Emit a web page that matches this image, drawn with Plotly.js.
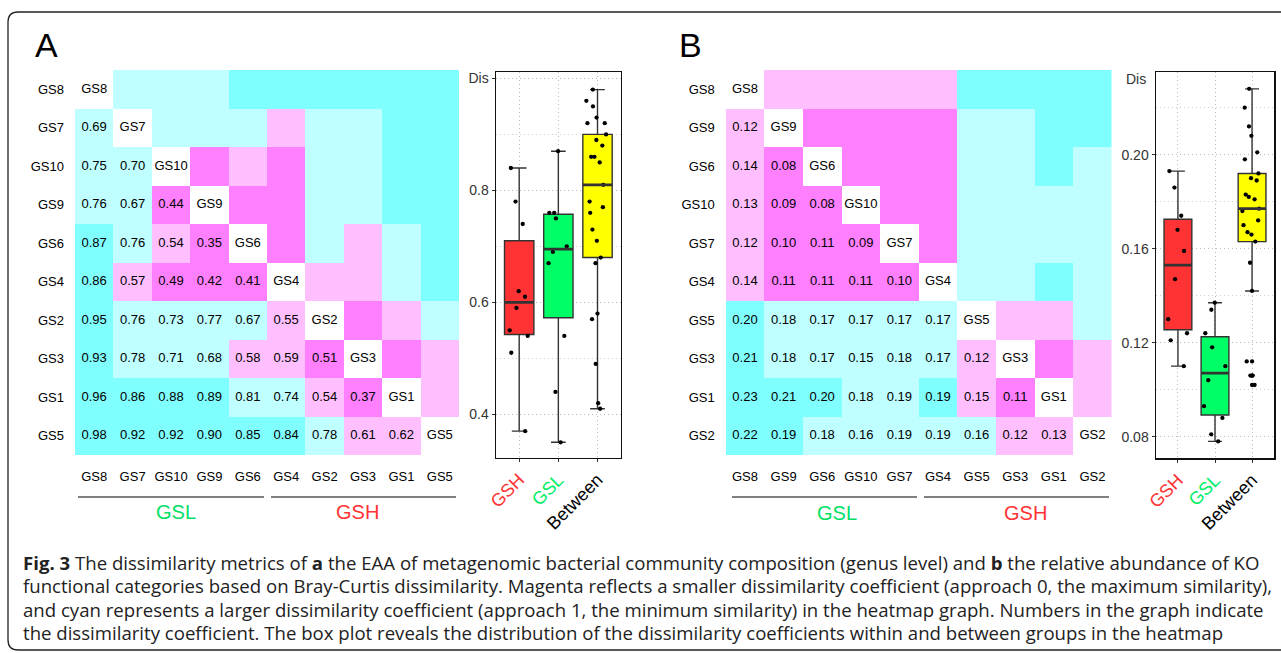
<!DOCTYPE html>
<html><head><meta charset="utf-8">
<script src="https://cdn.plot.ly/plotly-3.0.1.min.js"></script>
<style>html,body{margin:0;padding:0;background:#fff}#chart{width:1281px;height:653px}</style>
</head><body><div id="chart"></div>
<script>
// ---------- DATA ----------
const samplesA = ['GS8','GS7','GS10','GS9','GS6','GS4','GS2','GS3','GS1','GS5'];
const gslA = ['GS8','GS7','GS10','GS9','GS6'];
const gshA = ['GS4','GS2','GS3','GS1','GS5'];
const lowerA = [
  [],
  [0.69],
  [0.75,0.70],
  [0.76,0.67,0.44],
  [0.87,0.76,0.54,0.35],
  [0.86,0.57,0.49,0.42,0.41],
  [0.95,0.76,0.73,0.77,0.67,0.55],
  [0.93,0.78,0.71,0.68,0.58,0.59,0.51],
  [0.96,0.86,0.88,0.89,0.81,0.74,0.54,0.37],
  [0.98,0.92,0.92,0.90,0.85,0.84,0.78,0.61,0.62]
];
const samplesB = ['GS8','GS9','GS6','GS10','GS7','GS4','GS5','GS3','GS1','GS2'];
const gslB = ['GS8','GS9','GS6','GS10','GS7'];
const gshB = ['GS4','GS5','GS3','GS1','GS2'];
const lowerB = [
  [],
  [0.118],
  [0.137,0.078],
  [0.134,0.088,0.081],
  [0.124,0.104,0.110,0.093],
  [0.142,0.112,0.106,0.106,0.102],
  [0.198,0.176,0.166,0.167,0.170,0.168],
  [0.208,0.177,0.172,0.154,0.181,0.174,0.121],
  [0.228,0.212,0.201,0.182,0.189,0.193,0.147,0.110],
  [0.220,0.192,0.183,0.163,0.190,0.186,0.159,0.124,0.130]
];
const boxCats = ['GSH','GSL','Between'];
const boxColors = ['#ff3333','#00ff66','#ffff00'];
const catLabelColors = ['#ff3333','#00ee66','#000000'];
const binsA = [0.52, 0.665, 0.825];
const binsB = [0.115, 0.15, 0.191];
const binColors = ['#ff80ff','#ffbfff','#bfffff','#80ffff'];
const captionLines = [
  '<b>Fig. 3</b> The dissimilarity metrics of <b>a</b> the EAA of metagenomic bacterial community composition (genus level) and <b>b</b> the relative abundance of KO',
  'functional categories based on Bray-Curtis dissimilarity. Magenta reflects a smaller dissimilarity coefficient (approach 0, the maximum similarity),',
  'and cyan represents a larger dissimilarity coefficient (approach 1, the minimum similarity) in the heatmap graph. Numbers in the graph indicate',
  'the dissimilarity coefficient. The box plot reveals the distribution of the dissimilarity coefficients within and between groups in the heatmap'
];

// ---------- HELPERS ----------
const W = 1281, H = 653;
const px = v => v / W;
const py = v => 1 - v / H;
const FONT = 'Liberation Sans, Arial, sans-serif';
const DOT = '1px,3px';

function fullMatrix(samples, lower) {
  const n = samples.length;
  const z = [];
  for (let i = 0; i < n; i++) {
    const row = [];
    for (let j = 0; j < n; j++) {
      if (i === j) row.push(null);
      else if (j < i) row.push(lower[i][j]);
      else row.push(lower[j][i]);
    }
    z.push(row);
  }
  return z;
}
function stepScale(bins) {
  return [
    [0, binColors[0]], [bins[0], binColors[0]],
    [bins[0], binColors[1]], [bins[1], binColors[1]],
    [bins[1], binColors[2]], [bins[2], binColors[2]],
    [bins[2], binColors[3]], [1, binColors[3]]
  ];
}
function textTrace(samples, lower, xa, ya) {
  const xs = [], ys = [], ts = [];
  samples.forEach((s, i) => {
    xs.push(s); ys.push(s); ts.push(s);
    for (let j = 0; j < i; j++) {
      xs.push(samples[j]); ys.push(s); ts.push(lower[i][j].toFixed(2));
    }
  });
  return {type:'scatter', mode:'text', x:xs, y:ys, text:ts, xaxis:xa, yaxis:ya,
    textposition:'middle center', textfont:{family:FONT, size:13, color:'#000'},
    hoverinfo:'skip', cliponaxis:false};
}
function groupValues(samples, lower, gA, gB) {
  const out = [];
  for (let i = 0; i < samples.length; i++) for (let j = 0; j < i; j++) {
    const a = samples[i], b = samples[j];
    if (gB === null) { if (gA.includes(a) && gA.includes(b)) out.push(lower[i][j]); }
    else if ((gA.includes(a) && gB.includes(b)) || (gB.includes(a) && gA.includes(b))) out.push(lower[i][j]);
  }
  return out;
}
function q7(s, p) {
  const h = (s.length - 1) * p, lo = Math.floor(h);
  const hi = Math.min(lo + 1, s.length - 1);
  return s[lo] + (h - lo) * (s[hi] - s[lo]);
}
const medianShapes = [];
function boxTraces(groups, xa, ya) {
  const traces = [];
  const px_ = [], py_ = [], ox = [], oy = [];
  groups.forEach((vals, k) => {
    const s = vals.slice().sort((a, b) => a - b);
    const q1 = q7(s, 0.25), med = q7(s, 0.5), q3 = q7(s, 0.75), iqr = q3 - q1;
    const inside = s.filter(v => v >= q1 - 1.5 * iqr && v <= q3 + 1.5 * iqr);
    const lf = inside[0], uf = inside[inside.length - 1];
    s.forEach(v => { if (v < lf || v > uf) { ox.push(boxCats[k]); oy.push(v); } });
    traces.push({type:'box', x:[boxCats[k]], q1:[q1], median:[med], q3:[q3],
      lowerfence:[lf], upperfence:[uf], boxpoints:false, width:0.75,
      fillcolor:boxColors[k], line:{color:'#333333', width:1.4},
      xaxis:xa, yaxis:ya, hoverinfo:'skip'});
    medianShapes.push({type:'line', xref:xa, yref:ya, x0:k - 0.375, x1:k + 0.375, y0:med, y1:med,
      line:{color:'#333333', width:2.8}, layer:'above'});
    vals.forEach(v => { px_.push(boxCats[k]); py_.push(v); });
  });
  traces.push({type:'box', x:px_, y:py_, boxpoints:'all', jitter:0.85, pointpos:0, width:0.75,
    fillcolor:'rgba(0,0,0,0)', line:{color:'rgba(0,0,0,0)', width:0},
    marker:{color:'#000', size:4.3}, xaxis:xa, yaxis:ya, hoverinfo:'skip'});
  if (ox.length) traces.push({type:'scatter', mode:'markers', x:ox, y:oy,
    marker:{color:'#000', size:4.3}, xaxis:xa, yaxis:ya, hoverinfo:'skip'});
  return traces;
}

// ---------- TRACES ----------
const data = [];
data.push({type:'heatmap', x:samplesA, y:samplesA, z:fullMatrix(samplesA, lowerA),
  zmin:0, zmax:1, colorscale:stepScale(binsA), showscale:false, hoverinfo:'skip', xaxis:'x', yaxis:'y'});
data.push(textTrace(samplesA, lowerA, 'x', 'y'));
data.push({type:'heatmap', x:samplesB, y:samplesB, z:fullMatrix(samplesB, lowerB),
  zmin:0, zmax:1, colorscale:stepScale(binsB), showscale:false, hoverinfo:'skip', xaxis:'x3', yaxis:'y3'});
data.push(textTrace(samplesB, lowerB, 'x3', 'y3'));
const groupsA = [groupValues(samplesA, lowerA, gshA, null), groupValues(samplesA, lowerA, gslA, null), groupValues(samplesA, lowerA, gshA, gslA)];
const groupsB = [groupValues(samplesB, lowerB, gshB, null), groupValues(samplesB, lowerB, gslB, null), groupValues(samplesB, lowerB, gshB, gslB)];
boxTraces(groupsA, 'x2', 'y2').forEach(t => data.push(t));
boxTraces(groupsB, 'x4', 'y4').forEach(t => data.push(t));

// ---------- LAYOUT ----------
function heatX(domain, anchor, cats) {
  return {domain:domain, anchor:anchor, type:'category', categoryorder:'array', categoryarray:cats,
    showgrid:false, zeroline:false, showline:false, ticks:'', ticklabelstandoff:12,
    tickfont:{family:FONT, size:13, color:'#000'}, fixedrange:true};
}
function heatY(domain, anchor, cats) {
  return {domain:domain, anchor:anchor, type:'category', categoryorder:'array', categoryarray:cats,
    autorange:'reversed', showgrid:false, zeroline:false, showline:false, ticks:'', ticklabelstandoff:10,
    tickfont:{family:FONT, size:13, color:'#000'}, fixedrange:true};
}
const ticktextCats = boxCats.map((c, i) => '<span style="color:' + catLabelColors[i] + '">' + c + '</span>');
function boxX(domain, anchor) {
  return {domain:domain, anchor:anchor, type:'category', categoryorder:'array', categoryarray:boxCats,
    range:[-0.6, 2.6], tickmode:'array', tickvals:boxCats, ticktext:ticktextCats, tickangle:-45,
    tickfont:{family:FONT, size:18}, showline:true, mirror:true, linecolor:'#111', linewidth:1.2,
    ticks:'outside', ticklen:3, tickcolor:'#333', showgrid:true, gridcolor:'#bdbdbd', griddash:DOT,
    zeroline:false, fixedrange:true};
}
function boxY(domain, anchor, range, major, labels, minor) {
  return {domain:domain, anchor:anchor, range:range, tickmode:'array', tickvals:major, ticktext:labels,
    tickfont:{family:FONT, size:14, color:'#333'}, showline:true, mirror:true, linecolor:'#111', linewidth:1.2,
    ticks:'outside', ticklen:3, tickcolor:'#333', showgrid:true, gridcolor:'#bdbdbd', griddash:DOT,
    minor:{tickmode:'array', tickvals:minor, showgrid:true, gridcolor:'#d0d0d0', griddash:DOT, ticks:''},
    zeroline:false, fixedrange:true};
}

const shapes = [
  {type:'path', xref:'paper', yref:'paper', line:{color:'#222', width:1.3},
   path:'M ' + px(18) + ' ' + py(12) + ' L ' + px(1300) + ' ' + py(12) + ' L ' + px(1300) + ' ' + py(650) +
        ' L ' + px(18) + ' ' + py(650) + ' Q ' + px(8) + ' ' + py(650) + ' ' + px(8) + ' ' + py(640) +
        ' L ' + px(8) + ' ' + py(22) + ' Q ' + px(8) + ' ' + py(12) + ' ' + px(18) + ' ' + py(12)},
];
[[78,264],[271,456],[732,917],[924,1109]].forEach(s => shapes.push({type:'line', xref:'paper', yref:'paper',
  x0:px(s[0]), x1:px(s[1]), y0:py(497), y1:py(497), line:{color:'#000', width:1.2}}));
medianShapes.forEach(s => shapes.push(s));

const annotations = [
  {text:'A', x:px(46.5), y:py(45.5), font:{family:FONT, size:34, color:'#000'}},
  {text:'B', x:px(690), y:py(45.5), font:{family:FONT, size:34, color:'#000'}},
  {text:'GSL', x:px(176), y:py(512), font:{family:FONT, size:20, color:'#00e066'}},
  {text:'GSH', x:px(358), y:py(512), font:{family:FONT, size:20, color:'#ff3333'}},
  {text:'GSL', x:px(837), y:py(512.5), font:{family:FONT, size:20, color:'#00e066'}},
  {text:'GSH', x:px(1025), y:py(512.5), font:{family:FONT, size:20, color:'#ff3333'}},
  {text:'Dis', x:px(1148), y:py(79), xanchor:'right', font:{family:FONT, size:14, color:'#333'}}
].map(a => Object.assign({xref:'paper', yref:'paper', showarrow:false, xanchor:'center', yanchor:'middle'}, a));
const capY = [562, 585, 609, 632];
captionLines.forEach((t, i) => annotations.push({text:t, xref:'paper', yref:'paper', x:px(21), y:py(capY[i]),
  xanchor:'left', yanchor:'middle', showarrow:false, font:{family:'Open Sans, Noto Sans, sans-serif', size:18.6, color:'#222'}}));

const layout = {
  width:W, height:H, margin:{l:0, r:0, t:0, b:0}, paper_bgcolor:'#fff', plot_bgcolor:'rgba(0,0,0,0)',
  showlegend:false, boxmode:'overlay', font:{family:FONT},
  xaxis: heatX([px(75), px(459)], 'y', samplesA),
  yaxis: heatY([py(455), py(70)], 'x', samplesA),
  xaxis2: boxX([px(495.7), px(621)], 'y2'),
  yaxis2: boxY([py(458), py(71.7)], 'x2', [0.322, 1.012], [0.4, 0.6, 0.8, 1.0], ['0.4','0.6','0.8','Dis'], [0.5, 0.7, 0.9]),
  xaxis3: heatX([px(725.7), px(1111.7)], 'y3', samplesB),
  yaxis3: heatY([py(455), py(70)], 'x3', samplesB),
  xaxis4: boxX([px(1155.7), px(1274.3)], 'y4'),
  yaxis4: boxY([py(458.3), py(71.7)], 'x4', [0.0708, 0.2353], [0.08, 0.12, 0.16, 0.20], ['0.08','0.12','0.16','0.20'], [0.10, 0.14, 0.18, 0.22]),
  shapes: shapes, annotations: annotations
};
Plotly.newPlot('chart', data, layout, {displayModeBar:false, staticPlot:true});
</script></body></html>
